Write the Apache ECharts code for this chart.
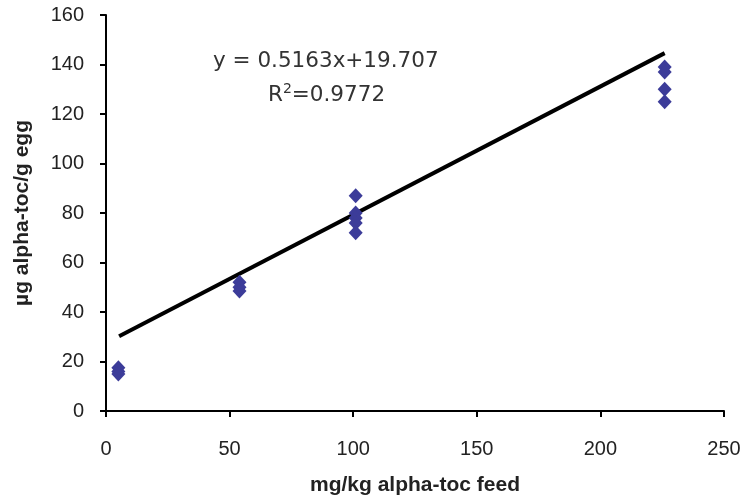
<!DOCTYPE html>
<html>
<head>
<meta charset="utf-8">
<script src="https://cdn.jsdelivr.net/npm/echarts@6/dist/echarts.min.js"></script>
<style>html,body{margin:0;padding:0;background:#fff;}#c{width:741px;height:497px;}</style>
</head>
<body>
<div id="c"></div>
<script>
const feedX = [5, 5, 5, 54, 54, 54, 101, 101, 101, 101, 101, 226, 226, 226, 226];
const eggY  = [17.5, 16, 15, 52, 50, 48.5, 87, 80, 78, 76, 72, 139, 137, 130, 125];
const trendX = [5.3, 226];
const trendY = [30.2, 144.6];
const xTicks = [0, 50, 100, 150, 200, 250];
const yTicks = [0, 20, 40, 60, 80, 100, 120, 140, 160];
const eqLine1 = 'y = 0.5163x+19.707';
const eqLine2 = 'R{sup|2}=0.9772';

const chart = echarts.init(document.getElementById('c'));
const axisFont = {fontFamily: 'Liberation Sans, Arial, sans-serif', fontSize: 20, color: '#222'};
const nameFont = {fontFamily: 'Liberation Sans, Arial, sans-serif', fontSize: 21, fontWeight: 'bold', color: '#222'};
chart.setOption({
  animation: false,
  backgroundColor: '#fff',
  grid: {left: 106, right: 17, top: 15, bottom: 86, containLabel: false, outerBoundsMode: 'none'},
  xAxis: {
    type: 'value', min: xTicks[0], max: xTicks[xTicks.length - 1], interval: xTicks[1] - xTicks[0],
    name: 'mg/kg alpha-toc feed', nameLocation: 'middle', nameGap: 64,
    nameTextStyle: nameFont,
    axisLine: {show: true, onZero: false, lineStyle: {color: '#000', width: 2}},
    axisTick: {show: true, inside: false, length: 6, lineStyle: {color: '#000', width: 2}},
    axisLabel: Object.assign({margin: 28}, axisFont),
    splitLine: {show: false}
  },
  yAxis: {
    type: 'value', min: yTicks[0], max: yTicks[yTicks.length - 1], interval: yTicks[1] - yTicks[0],
    name: 'µg alpha-toc/g egg', nameLocation: 'middle', nameGap: 73, nameRotate: 90,
    nameTextStyle: nameFont,
    axisLine: {show: true, onZero: false, lineStyle: {color: '#000', width: 2}},
    axisTick: {show: true, inside: false, length: 6, lineStyle: {color: '#000', width: 2}},
    axisLabel: Object.assign({margin: 22}, axisFont),
    splitLine: {show: false}
  },
  series: [
    {
      type: 'line',
      data: trendX.map((x, i) => [x, trendY[i]]),
      showSymbol: false, symbol: 'none',
      lineStyle: {color: '#000', width: 4},
      z: 2
    },
    {
      type: 'scatter',
      data: feedX.map((x, i) => [x, eggY[i]]),
      symbol: 'diamond', symbolSize: [14, 15],
      itemStyle: {color: '#3c3c99', opacity: 1},
      z: 3
    }
  ],
  graphic: [
    {type: 'text', left: 213, top: 50, style: {text: eqLine1, font: '21.5px "DejaVu Sans", Verdana, sans-serif', fill: '#333'}},
    {type: 'text', left: 268, top: 82, style: {text: eqLine2, font: '21.5px "DejaVu Sans", Verdana, sans-serif', fill: '#333',
      rich: {sup: {fontSize: 14, fontFamily: 'DejaVu Sans', verticalAlign: 'top', padding: [0, 0, 12, 0], fill: '#333', color: '#333'}}}}
  ]
});
</script>
</body>
</html>
